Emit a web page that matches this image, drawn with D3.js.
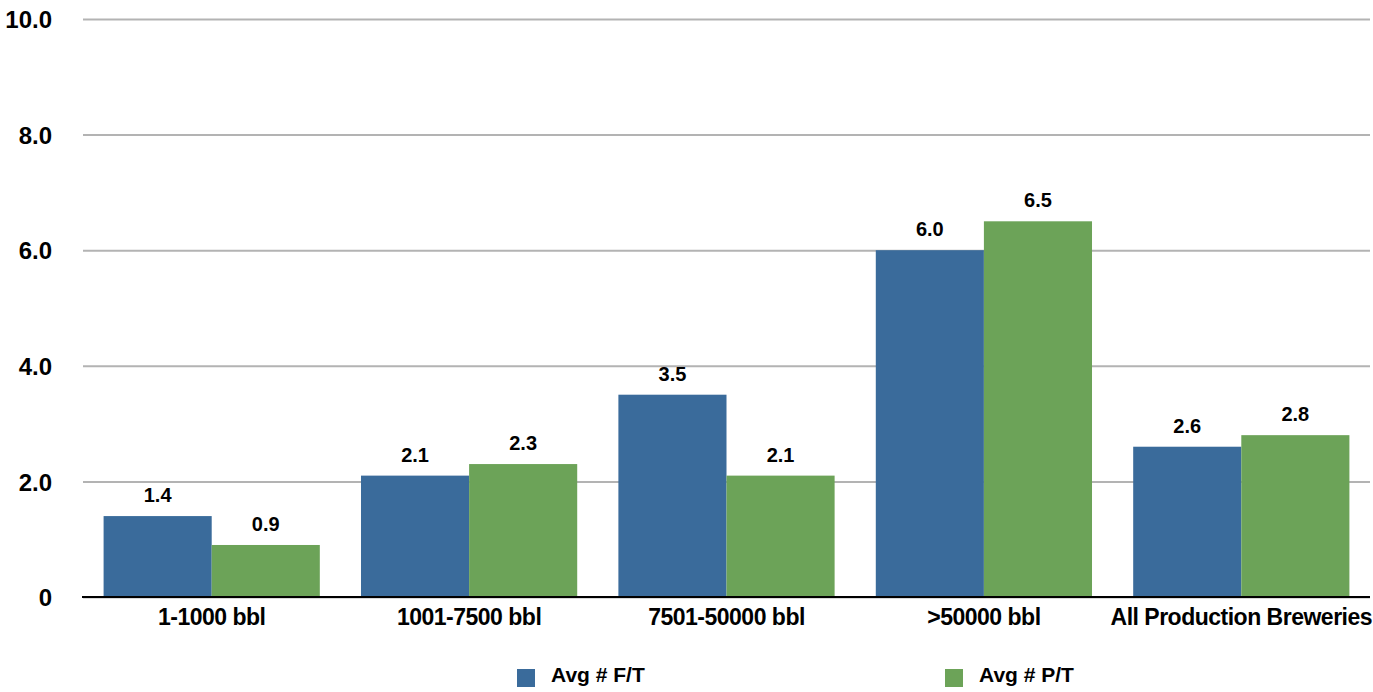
<!DOCTYPE html>
<html>
<head>
<meta charset="utf-8">
<script src="https://cdn.jsdelivr.net/npm/d3@7"></script>
<style>
  html, body { margin: 0; padding: 0; background: #ffffff; }
  svg { display: block; }
  text { font-family: "Liberation Sans", Arial, sans-serif; font-weight: bold; fill: #000; }
</style>
</head>
<body>
<svg id="chart" width="1373" height="692"></svg>
<script>
const categories = ["1-1000 bbl", "1001-7500 bbl", "7501-50000 bbl", ">50000 bbl", "All Production Breweries"];
const seriesNames = ["Avg # F/T", "Avg # P/T"];
const fullTime = [1.4, 2.1, 3.5, 6.0, 2.6];
const partTime = [0.9, 2.3, 2.1, 6.5, 2.8];
const yTicks = [0, 2, 4, 6, 8, 10];
const yTickLabels = ["0", "2.0", "4.0", "6.0", "8.0", "10.0"];
const colors = ["#3a6b9b", "#6ca358"];

const svg = d3.select("#chart");
const margin = { left: 83, right: 3, top: 19, bottom: 95 };
const W = 1373, H = 692;
const x0 = d3.scaleBand().domain(categories).range([margin.left, W - margin.right]).paddingInner(0.16).paddingOuter(0.08);
const x1 = d3.scaleBand().domain(seriesNames).range([0, x0.bandwidth()]).padding(0);
const y = d3.scaleLinear().domain([0, 10]).range([H - margin.bottom, margin.top]);

// gridlines
const yAxis = d3.axisLeft(y).tickValues(yTicks).tickSize(-(W - margin.right - margin.left)).tickFormat((d, i) => yTickLabels[i]);
const gy = svg.append("g").attr("transform", `translate(${margin.left},0)`).call(yAxis);
gy.select(".domain").remove();
gy.selectAll(".tick line").attr("stroke", "#b3b3b3").attr("stroke-width", 2);
gy.selectAll(".tick text").attr("x", -31).attr("font-size", 24).attr("dy", "0.36em")
  .style("font-family", "'Liberation Sans', Arial, sans-serif").style("font-weight", "bold").attr("fill", "#000");

// bars
const data = categories.map((c, i) => ({ cat: c, vals: [fullTime[i], partTime[i]] }));
const groups = svg.append("g").selectAll("g").data(data).join("g")
  .attr("transform", d => `translate(${x0(d.cat)},0)`);
groups.selectAll("rect").data(d => d.vals.map((v, j) => ({ key: seriesNames[j], v, j }))).join("rect")
  .attr("x", d => x1(d.key)).attr("width", x1.bandwidth())
  .attr("y", d => y(d.v)).attr("height", d => y(0) - y(d.v))
  .attr("fill", d => colors[d.j]);
groups.selectAll("text.val").data(d => d.vals.map((v, j) => ({ key: seriesNames[j], v, j }))).join("text")
  .attr("class", "val")
  .attr("x", d => x1(d.key) + x1.bandwidth() / 2).attr("y", d => y(d.v) - 14)
  .attr("text-anchor", "middle").attr("font-size", 20)
  .text(d => d.v.toFixed(1));

// x axis
const xAxis = d3.axisBottom(x0).tickSize(0).tickPadding(0);
const gx = svg.append("g").attr("transform", `translate(0,${y(0)})`).call(xAxis);
gx.select(".domain").remove();
svg.append("line").attr("x1", margin.left - 1).attr("x2", W - margin.right).attr("y1", y(0)).attr("y2", y(0))
  .attr("stroke", "#000").attr("stroke-width", 2);
gx.selectAll(".tick text").attr("y", 28).attr("dy", 0).attr("font-size", 23).attr("letter-spacing", "-0.5px")
  .style("font-family", "'Liberation Sans', Arial, sans-serif").style("font-weight", "bold").attr("fill", "#000");

// legend
const legendX = [517, 945];
const lg = svg.append("g").selectAll("g").data(seriesNames).join("g")
  .attr("transform", (d, i) => `translate(${legendX[i]},669)`);
lg.append("rect").attr("width", 18).attr("height", 18).attr("fill", (d, i) => colors[i]);
lg.append("text").attr("x", 34).attr("y", 13).attr("font-size", 21).text(d => d);
</script>
</body>
</html>
